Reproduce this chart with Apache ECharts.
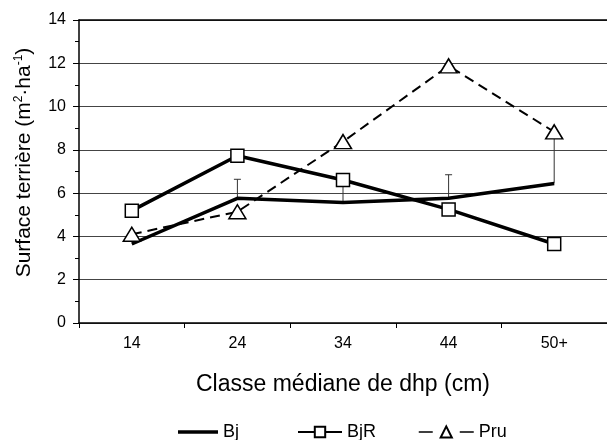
<!DOCTYPE html>
<html><head><meta charset="utf-8">
<script src="https://cdn.jsdelivr.net/npm/echarts@6/dist/echarts.min.js"></script>
<style>html,body{margin:0;padding:0;background:#fff}#c{width:607px;height:440px}</style>
</head><body><div id="c"></div>
<script>
const categories = ['14', '24', '34', '44', '50+'];
const bj = [3.65, 5.76, 5.57, 5.76, 6.45];
const bjR = [5.19, 7.73, 6.61, 5.25, 3.65];
const pru = [4.1, 5.14, 8.38, 11.88, 8.83];
const bjErrTop = [null, 6.64, 6.4, 6.85, 8.8];
const yTicks = [0, 2, 4, 6, 8, 10, 12, 14];

const F = 'Liberation Sans, Arial, sans-serif';
const legText = {fontFamily: F, fontSize: 18, color: '#000'};
const chart = echarts.init(document.getElementById('c'), null, {renderer: 'canvas'});
chart.setOption({
  animation: false,
  backgroundColor: '#fff',
  textStyle: {fontFamily: F, color: '#000'},
  grid: {left: 79, top: 20, width: 539, height: 303, containLabel: false},
  legend: [
    {left: 178, top: 423, padding: 0, itemWidth: 40, itemHeight: 3.5, icon: 'rect', textStyle: legText,
     itemStyle: {color: '#000'}, data: ['Bj']},
    {left: 297, top: 423, padding: 0, itemWidth: 44, itemHeight: 13, textStyle: legText, data: ['BjR']},
    {left: 418, top: 423, padding: 0, itemWidth: 55, itemHeight: 14, textStyle: legText,
     lineStyle: {type: [14, 27], width: 1.5}, data: ['Pru']}
  ],
  xAxis: [{
    type: 'category', data: categories, boundaryGap: true,
    axisLine: {lineStyle: {color: '#000', width: 1.5}},
    axisTick: {show: true, length: 5, lineStyle: {color: '#000'}},
    axisLabel: {fontFamily: F, fontSize: 16, color: '#000', margin: 13},
    name: 'Classe médiane de dhp (cm)', nameLocation: 'middle', nameGap: 50,
    nameTextStyle: {fontFamily: F, fontSize: 23, color: '#000'}
  }, {
    type: 'category', data: categories, position: 'top', boundaryGap: true,
    axisLine: {show: true, lineStyle: {color: '#000', width: 1.5}},
    axisTick: {show: false}, axisLabel: {show: false}, splitLine: {show: false}
  }],
  yAxis: {
    type: 'value', min: yTicks[0], max: yTicks[yTicks.length - 1], interval: 2,
    axisLine: {show: true, lineStyle: {color: '#000', width: 1.5}},
    axisTick: {show: true, length: 6, lineStyle: {color: '#000'}},
    minorTick: {show: true, splitNumber: 2, length: 4, lineStyle: {color: '#000'}},
    splitLine: {show: true, lineStyle: {color: '#444', width: 1}},
    axisLabel: {fontFamily: F, fontSize: 16, color: '#000', margin: 13},
    name: 'Surface terrière (m{s|2}·ha{s|-1})', nameLocation: 'middle', nameGap: 44,
    nameTextStyle: {fontFamily: F, fontSize: 21, color: '#000', padding: [0, 0, 0, 18],
      rich: {s: {fontFamily: F, fontSize: 12, color: '#000', verticalAlign: 'top', padding: [0, 0, 10, 0]}}}
  },
  series: [
    {
      name: 'BjErr', type: 'custom', z: 1, silent: true,
      data: bjErrTop.map((v, i) => [i, bj[i], v]),
      renderItem: function (params, api) {
        const top = api.value(2);
        if (top == null || isNaN(top)) return null;
        const p0 = api.coord([api.value(0), api.value(1)]);
        const p1 = api.coord([api.value(0), top]);
        const st = {stroke: '#333', lineWidth: 1};
        return {type: 'group', children: [
          {type: 'line', shape: {x1: p0[0], y1: p0[1], x2: p1[0], y2: p1[1]}, style: st},
          {type: 'line', shape: {x1: p1[0] - 3.5, y1: p1[1], x2: p1[0] + 3.5, y2: p1[1]}, style: st}
        ]};
      }
    },
    {
      name: 'Bj', type: 'line', data: bj, symbol: 'none', z: 3,
      lineStyle: {color: '#000', width: 3.5}, itemStyle: {color: '#000'}
    },
    {
      name: 'BjR', type: 'line', data: bjR, symbol: 'rect', symbolSize: 13, showAllSymbol: true, z: 4,
      lineStyle: {color: '#000', width: 3.5},
      itemStyle: {color: '#fff', borderColor: '#000', borderWidth: 1.5}
    },
    {
      name: 'Pru', type: 'line', data: pru, symbol: 'triangle', symbolSize: [17, 14], showAllSymbol: true, z: 5,
      lineStyle: {color: '#000', width: 2, type: [10, 6]},
      itemStyle: {color: '#fff', borderColor: '#000', borderWidth: 1.5}
    }
  ]
});
</script></body></html>
